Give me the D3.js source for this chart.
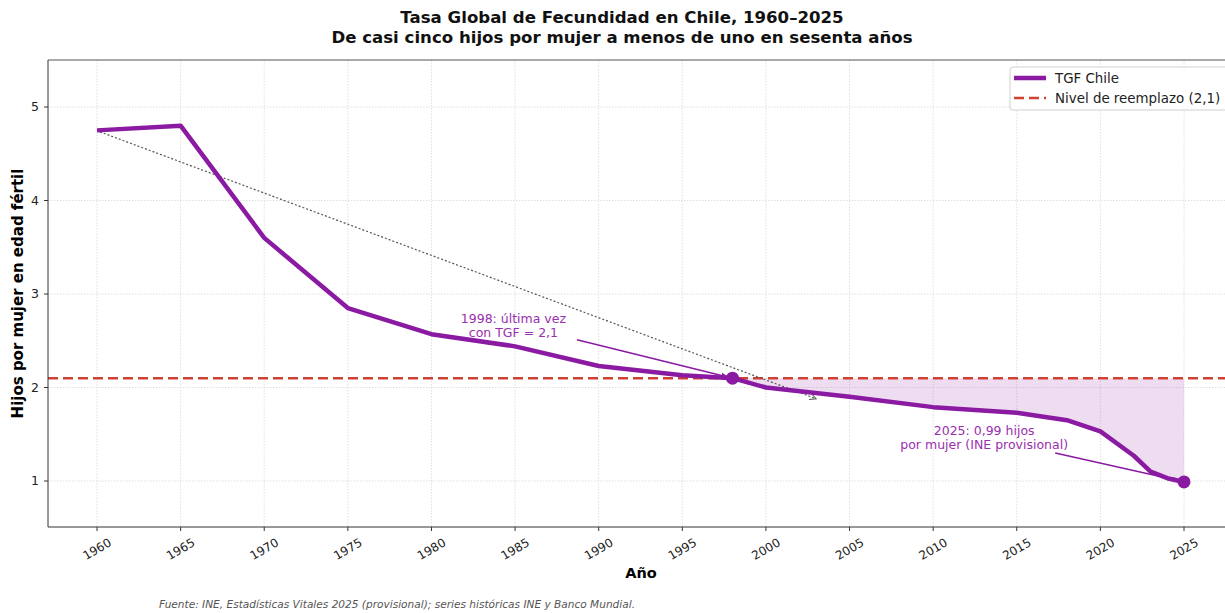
<!DOCTYPE html>
<html><head><meta charset="utf-8">
<script src="https://cdn.jsdelivr.net/npm/d3@7"></script>
<style>
html,body{margin:0;padding:0;background:#fff;overflow:hidden}
text{font-family:"DejaVu Sans",sans-serif}
</style></head>
<body><svg id="c" width="1225" height="613"></svg>
<script>
const years = [1960,1965,1970,1975,1980,1985,1990,1995,1998,2000,2005,2010,2015,2018,2020,2022,2023,2024,2025];
const tgf   = [4.75,4.80,3.60,2.85,2.57,2.44,2.23,2.13,2.10,2.00,1.90,1.79,1.73,1.65,1.53,1.27,1.10,1.03,0.99];
const replacement = 2.1;
const xTicks = [1960,1965,1970,1975,1980,1985,1990,1995,2000,2005,2010,2015,2020,2025];
const yTicks = [1,2,3,4,5];
const highlightYears = [1998, 2025];
const trendFrom = [1960, 4.75];
const trendTo = [2003, 1.88];
const titleLines = ["Tasa Global de Fecundidad en Chile, 1960–2025","De casi cinco hijos por mujer a menos de uno en sesenta años"];
const ann1Lines = ["1998: última vez","con TGF = 2,1"];
const ann1Text = [1984.9, 2.66];
const ann1From = [1988.7, 2.51];
const ann2Lines = ["2025: 0,99 hijos","por mujer (INE provisional)"];
const ann2Text = [2013.05, 1.46];
const ann2From = [2017.3, 1.30];
const legendLabels = ["TGF Chile","Nivel de reemplazo (2,1)"];
const source = "Fuente: INE, Estadísticas Vitales 2025 (provisional); series históricas INE y Banco Mundial.";

const PURPLE = "#8B1AA3", RED = "#CF4233", GRAY = "#555";
const svg = d3.select("#c");
const L = 48, R = 1234, T = 60, B = 527;
const x = d3.scaleLinear().domain([1960,2025]).range([97,1184]);
const y = d3.scaleLinear().domain([1,5]).range([481,107]);

const defs = svg.append("defs");
defs.append("clipPath").attr("id","clip").append("rect").attr("x",L).attr("y",T).attr("width",R-L).attr("height",B-T);
defs.append("marker").attr("id","arrP").attr("viewBox","0 0 10 10").attr("refX",9).attr("refY",5)
  .attr("markerWidth",7).attr("markerHeight",7).attr("markerUnits","userSpaceOnUse").attr("orient","auto")
  .append("path").attr("d","M0,1L10,5L0,9Z").attr("fill",PURPLE);
defs.append("marker").attr("id","arrG").attr("viewBox","0 0 10 10").attr("refX",9).attr("refY",5)
  .attr("markerWidth",8).attr("markerHeight",8).attr("markerUnits","userSpaceOnUse").attr("orient","auto")
  .append("path").attr("d","M1,1L9,5L1,9").attr("fill","none").attr("stroke",GRAY).attr("stroke-width",1.3);

// grid
const g = svg.append("g");
g.selectAll(".gx").data(xTicks).join("line").attr("x1",d=>x(d)).attr("x2",d=>x(d)).attr("y1",T).attr("y2",B)
  .attr("stroke","#d8d8d8").attr("stroke-width",0.8).attr("stroke-dasharray","1.5,1.5");
g.selectAll(".gy").data(yTicks).join("line").attr("x1",L).attr("x2",R).attr("y1",d=>y(d)).attr("y2",d=>y(d))
  .attr("stroke","#d8d8d8").attr("stroke-width",0.8).attr("stroke-dasharray","1.5,1.5");

const data = years.map((yr,i)=>({yr, v:tgf[i]}));
const plot = svg.append("g").attr("clip-path","url(#clip)");

// fill below replacement
const below = data.filter(d=>d.yr>=1998);
plot.append("path").datum(below)
  .attr("d", d3.area().x(d=>x(d.yr)).y0(y(replacement)).y1(d=>y(d.v)))
  .attr("fill",PURPLE).attr("fill-opacity",0.15);

// replacement line
plot.append("line").attr("x1",L).attr("x2",R).attr("y1",y(replacement)).attr("y2",y(replacement))
  .attr("stroke",RED).attr("stroke-width",2.5).attr("stroke-dasharray","10,5");

// trend dotted arrow
plot.append("line").attr("x1",x(trendFrom[0])+3).attr("y1",y(trendFrom[1])+1.5)
  .attr("x2",x(trendTo[0])).attr("y2",y(trendTo[1]))
  .attr("stroke",GRAY).attr("stroke-width",1.2).attr("stroke-dasharray","2,2").attr("marker-end","url(#arrG)");

// main line
plot.append("path").datum(data)
  .attr("d", d3.line().x(d=>x(d.yr)).y(d=>y(d.v)))
  .attr("fill","none").attr("stroke",PURPLE).attr("stroke-width",4.5).attr("stroke-linejoin","round");

// annotations arrows
function annArrow(from, toYr){
  const v = tgf[years.indexOf(toYr)];
  const x1=x(from[0]), y1=y(from[1]), x2=x(toYr), y2=y(v);
  const dx=x2-x1, dy=y2-y1, len=Math.hypot(dx,dy), s=5;
  plot.append("line").attr("x1",x1).attr("y1",y1).attr("x2",x2-dx/len*s).attr("y2",y2-dy/len*s)
    .attr("stroke",PURPLE).attr("stroke-width",1.5).attr("marker-end","url(#arrP)");
}
annArrow(ann1From, 1998);
annArrow(ann2From, 2025);

// highlight points
plot.selectAll(".pt").data(highlightYears).join("circle")
  .attr("cx",d=>x(d)).attr("cy",d=>y(tgf[years.indexOf(d)])).attr("r",6.5).attr("fill",PURPLE);

// annotation texts
function annText(lines, pos){
  const t = svg.append("text").attr("text-anchor","middle").attr("fill","#9a2fb0").attr("font-size",12.5);
  lines.forEach((ln,i)=>t.append("tspan").attr("x",x(pos[0])).attr("y",y(pos[1])+ (i===0?-3:11)).text(ln));
}
annText(ann1Lines, ann1Text);
annText(ann2Lines, ann2Text);

// spines
svg.append("line").attr("x1",L).attr("x2",L).attr("y1",T).attr("y2",B).attr("stroke","#333").attr("stroke-width",1);
svg.append("line").attr("x1",L).attr("x2",R).attr("y1",B).attr("y2",B).attr("stroke","#333").attr("stroke-width",1);
svg.append("line").attr("x1",L).attr("x2",R).attr("y1",T).attr("y2",T).attr("stroke","#555").attr("stroke-width",1);

// axes ticks
const xa = svg.append("g");
xTicks.forEach(t=>{
  xa.append("line").attr("x1",x(t)).attr("x2",x(t)).attr("y1",B).attr("y2",B+4).attr("stroke","#333");
  xa.append("text").attr("transform",`translate(${x(t)},${B+22}) rotate(-30)`).attr("text-anchor","middle")
    .attr("dy","0.35em").attr("font-size",12).attr("fill","#222").text(t);
});
const ya = svg.append("g");
yTicks.forEach(t=>{
  ya.append("line").attr("x1",L-4).attr("x2",L).attr("y1",y(t)).attr("y2",y(t)).attr("stroke","#333");
  ya.append("text").attr("x",L-9).attr("y",y(t)).attr("dy","0.35em").attr("text-anchor","end")
    .attr("font-size",12.5).attr("fill","#222").text(t);
});

// axis labels
svg.append("text").attr("x",(L+R)/2).attr("y",578).attr("text-anchor","middle").attr("font-weight","bold")
  .attr("font-size",14.5).text("Año");
svg.append("text").attr("transform",`translate(23,${(T+B)/2}) rotate(-90)`).attr("text-anchor","middle")
  .attr("font-weight","bold").attr("font-size",15).text("Hijos por mujer en edad fértil");

// title
titleLines.forEach((ln,i)=>svg.append("text").attr("x",622).attr("y",23+i*19.5).attr("text-anchor","middle")
  .attr("font-weight","bold").attr("font-size",16.6).attr("fill","#111").text(ln));

// legend
const lg = svg.append("g");
lg.append("rect").attr("x",1010).attr("y",67).attr("width",230).attr("height",43).attr("rx",3)
  .attr("fill","#fff").attr("fill-opacity",0.85).attr("stroke","#d0d0d0");
lg.append("line").attr("x1",1014).attr("x2",1046).attr("y1",78).attr("y2",78).attr("stroke",PURPLE).attr("stroke-width",4.5);
lg.append("line").attr("x1",1014).attr("x2",1046).attr("y1",98).attr("y2",98).attr("stroke",RED).attr("stroke-width",2.5).attr("stroke-dasharray","10,5");
legendLabels.forEach((lb,i)=>lg.append("text").attr("x",1055).attr("y",78+i*20).attr("dy","0.36em")
  .attr("font-size",13.4).attr("fill","#222").text(lb));

// source
svg.append("text").attr("x",159).attr("y",608).attr("font-style","italic").attr("font-size",10)
  .attr("fill","#555").attr("textLength",476).attr("lengthAdjust","spacingAndGlyphs").text(source);
</script></body></html>
